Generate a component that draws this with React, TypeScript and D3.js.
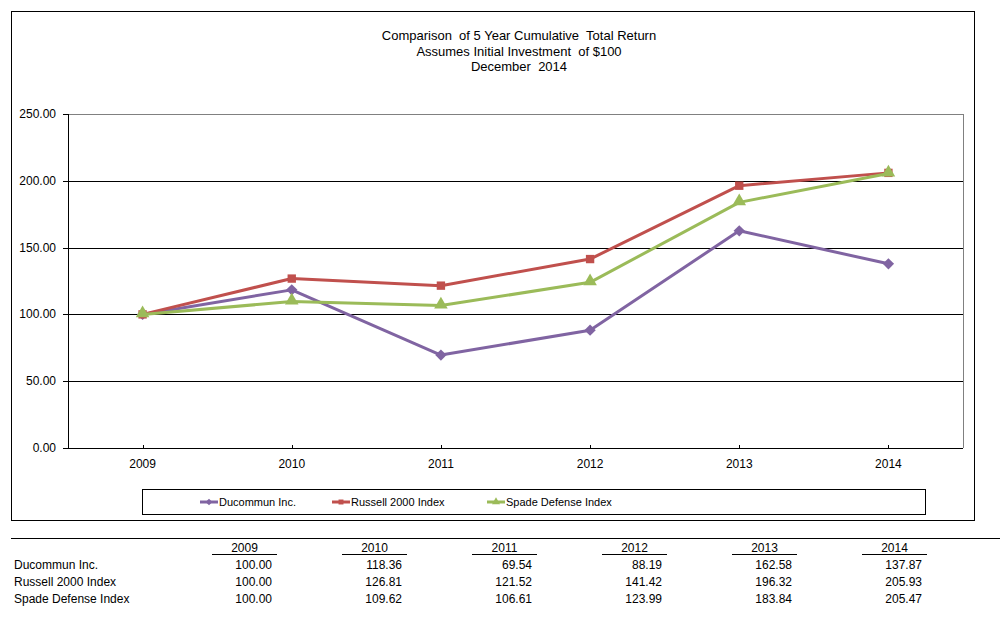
import { scaleBand, scaleLinear, line, symbol, symbolSquare, symbolTriangle } from "d3";
import { useEffect } from "react";

const years = ["2009", "2010", "2011", "2012", "2013", "2014"];
const ducommun = [100.0, 118.36, 69.54, 88.19, 162.58, 137.87];
const russell = [100.0, 126.81, 121.52, 141.42, 196.32, 205.93];
const spade = [100.0, 109.62, 106.61, 123.99, 183.84, 205.47];
const yTicks = [0, 50, 100, 150, 200, 250];
const titleLines = [
    "Comparison  of 5 Year Cumulative  Total Return",
    "Assumes Initial Investment  of $100",
    "December  2014",
];

// diamond = square rotated 45deg
const series = [
    { name: "Ducommun Inc.", values: ducommun, color: "#8064A2", shape: symbolSquare, size: 64, rot: 45 },
    { name: "Russell 2000 Index", values: russell, color: "#C0504D", shape: symbolSquare, size: 70, rot: 0 },
    { name: "Spade Defense Index", values: spade, color: "#9BBB59", shape: symbolTriangle, size: 80, rot: 0 },
];

const W = 1003;
const H = 618;
const plot = { left: 68, right: 963, top: 114, bottom: 448 };
const font = "'Liberation Sans', Arial, sans-serif";
const narrow = "'Liberation Sans Narrow', 'Arial Narrow', 'Liberation Sans', sans-serif";

function App() {
    useEffect(() => {
        document.body.style.margin = "0";
    }, []);

    const x = scaleBand().domain(years).range([plot.left, plot.right]);
    const y = scaleLinear().domain([0, 250]).range([plot.bottom, plot.top]);
    const cx = (yr: string) => (x(yr) as number) + x.bandwidth() / 2;

    const legendX = [200, 332, 487];

    // table columns
    const colLeft = (i: number) => 212 + i * 130;
    const colW = 65;

    return (
        <svg width={W} height={H} style={{ display: "block", background: "#fff" }}>
            {/* outer chart border */}
            <rect x={11.5} y={11.5} width={963} height={509} fill="none" stroke="#000" strokeWidth={1} />

            {titleLines.map((t, i) => (
                <text key={i} x={519} y={40 + i * 15.5} textAnchor="middle" fontFamily={font} fontSize={13} style={{ whiteSpace: "pre" }}>
                    {t}
                </text>
            ))}

            {/* gridlines */}
            {yTicks.map((t) => (
                <g key={t}>
                    <line
                        x1={plot.left - 5}
                        x2={plot.right}
                        y1={Math.round(y(t)) + 0.5}
                        y2={Math.round(y(t)) + 0.5}
                        stroke={t === 250 ? "#808080" : "#000"}
                        strokeWidth={1}
                    />
                    <line x1={plot.left - 5} x2={plot.left} y1={Math.round(y(t)) + 0.5} y2={Math.round(y(t)) + 0.5} stroke="#000" />
                    <text x={56} y={y(t) + 4} textAnchor="end" fontFamily={font} fontSize={12}>
                        {t.toFixed(2)}
                    </text>
                </g>
            ))}
            {/* plot area right border */}
            <line x1={plot.right + 0.5} x2={plot.right + 0.5} y1={plot.top} y2={plot.bottom} stroke="#808080" />
            {/* axes */}
            <line x1={plot.left + 0.5} x2={plot.left + 0.5} y1={plot.top} y2={plot.bottom + 1} stroke="#000" />
            <line x1={plot.left} x2={plot.right} y1={plot.bottom + 0.5} y2={plot.bottom + 0.5} stroke="#000" />
            {years.map((yr) => (
                <g key={yr}>
                    <line x1={Math.round(cx(yr)) + 0.5} x2={Math.round(cx(yr)) + 0.5} y1={plot.bottom - 3} y2={plot.bottom + 1} stroke="#000" />
                    <text x={cx(yr)} y={468} textAnchor="middle" fontFamily={font} fontSize={12}>
                        {yr}
                    </text>
                </g>
            ))}

            {/* series */}
            {series.map((s) => {
                const path = line<number>()
                    .x((_, i) => cx(years[i]))
                    .y((d) => y(d))(s.values) as string;
                const sym = symbol().type(s.shape).size(s.size)() as string;
                return (
                    <g key={s.name}>
                        <path d={path} fill="none" stroke={s.color} strokeWidth={3} strokeLinejoin="round" />
                        {s.values.map((v, i) => (
                            <path
                                key={i}
                                d={sym}
                                transform={`translate(${cx(years[i])},${y(v) - (s.shape === symbolTriangle ? 1 : 0)}) rotate(${s.rot})`}
                                fill={s.color}
                            />
                        ))}
                    </g>
                );
            })}

            {/* legend */}
            <rect x={142.5} y={489.5} width={783} height={25} fill="#fff" stroke="#000" />
            {series.map((s, i) => {
                const lx = legendX[i];
                const sym = symbol().type(s.shape).size(s.size * 0.35)() as string;
                return (
                    <g key={s.name}>
                        <line x1={lx} x2={lx + 18} y1={502} y2={502} stroke={s.color} strokeWidth={3} />
                        <path d={sym} transform={`translate(${lx + 9},502) rotate(${s.rot})`} fill={s.color} />
                        <text x={lx + 19} y={506} fontFamily={narrow} fontSize={11}>
                            {s.name}
                        </text>
                    </g>
                );
            })}

            {/* data table */}
            <line x1={11} x2={1000} y1={538.5} y2={538.5} stroke="#000" />
            {years.map((yr, i) => (
                <g key={yr}>
                    <text x={colLeft(i) + colW / 2} y={552} textAnchor="middle" fontFamily={narrow} fontSize={12}>
                        {yr}
                    </text>
                    <line x1={colLeft(i)} x2={colLeft(i) + colW} y1={554.5} y2={554.5} stroke="#000" />
                </g>
            ))}
            {series.map((s, r) => (
                <g key={s.name}>
                    <text x={14} y={569 + r * 17} fontFamily={narrow} fontSize={12}>
                        {s.name}
                    </text>
                    {s.values.map((v, i) => (
                        <text key={i} x={colLeft(i) + colW - 5} y={569 + r * 17} textAnchor="end" fontFamily={narrow} fontSize={12}>
                            {v.toFixed(2)}
                        </text>
                    ))}
                </g>
            ))}
        </svg>
    );
}

export default App;
